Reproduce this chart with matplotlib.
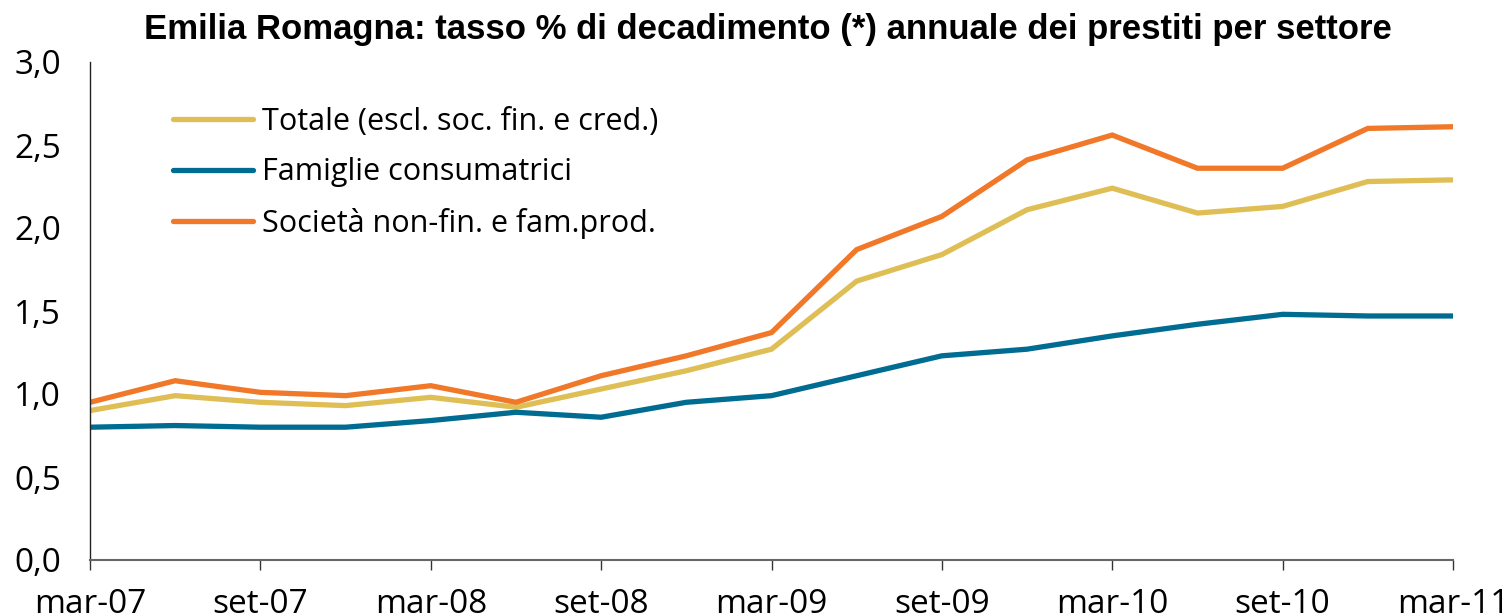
import matplotlib
matplotlib.use("Agg")
import matplotlib.pyplot as plt

quarters = ["mar-07", "giu-07", "set-07", "dic-07", "mar-08", "giu-08", "set-08", "dic-08",
            "mar-09", "giu-09", "set-09", "dic-09", "mar-10", "giu-10", "set-10", "dic-10", "mar-11"]
totale = [0.90, 0.99, 0.95, 0.93, 0.98, 0.92, 1.03, 1.14, 1.27, 1.68, 1.84, 2.11, 2.24, 2.09, 2.13, 2.28, 2.29]
famiglie = [0.80, 0.81, 0.80, 0.80, 0.84, 0.89, 0.86, 0.95, 0.99, 1.11, 1.23, 1.27, 1.35, 1.42, 1.48, 1.47, 1.47]
societa = [0.95, 1.08, 1.01, 0.99, 1.05, 0.95, 1.11, 1.23, 1.37, 1.87, 2.07, 2.41, 2.56, 2.36, 2.36, 2.60, 2.61]
yticks = [0.0, 0.5, 1.0, 1.5, 2.0, 2.5, 3.0]
ytick_labels = ["0,0", "0,5", "1,0", "1,5", "2,0", "2,5", "3,0"]
series_labels = ["Totale (escl. soc. fin. e cred.)", "Famiglie consumatrici", "Società non-fin. e fam.prod."]
title = "Emilia Romagna: tasso % di decadimento (*) annuale dei prestiti per settore"

plt.rcParams['font.family'] = ['Open Sans', 'DejaVu Sans']

fig = plt.figure(figsize=(15.1, 6.16), dpi=100)
ax = fig.add_axes([90/1510, 1-560/616, (1453-90)/1510, (560-62)/616])

x = list(range(len(quarters)))
lw = 3.8
ax.plot(x, totale, color="#DFBF55", lw=lw, solid_capstyle="round", solid_joinstyle="miter", label=series_labels[0])
ax.plot(x, famiglie, color="#006C91", lw=lw, solid_capstyle="round", solid_joinstyle="miter", label=series_labels[1])
ax.plot(x, societa, color="#F07828", lw=lw, solid_capstyle="round", solid_joinstyle="miter", label=series_labels[2])

ax.set_xlim(0, len(quarters)-1)
ax.set_ylim(0, 3.0)
ax.set_yticks(yticks)
ax.set_yticklabels(ytick_labels, fontsize=24)
ax.set_xticks(x[::2])
ax.set_xticklabels(quarters[::2], fontsize=24)
ax.tick_params(axis='y', length=0, pad=21)
ax.tick_params(axis='x', length=7, width=1, color="#333333", pad=13, direction='out')

for s in ["top", "right"]:
    ax.spines[s].set_visible(False)
ax.spines["left"].set_color("#222222")
ax.spines["left"].set_linewidth(1.0)
ax.spines["bottom"].set_color("#666666")
ax.spines["bottom"].set_linewidth(1.5)

leg = ax.legend(loc="upper left", bbox_to_anchor=(0.052, 0.935), frameon=False, fontsize=22,
                handlelength=2.6, handletextpad=0.3, labelspacing=0.68, borderaxespad=0)
for line in leg.get_lines():
    line.set_linewidth(lw)
    line.set_solid_capstyle("round")

fig.text(768/1510, 1-30/616, title, ha="center", va="center", fontsize=25, fontweight="bold",
         family=["Liberation Sans", "DejaVu Sans"])

fig.savefig("out.png", dpi=100)
